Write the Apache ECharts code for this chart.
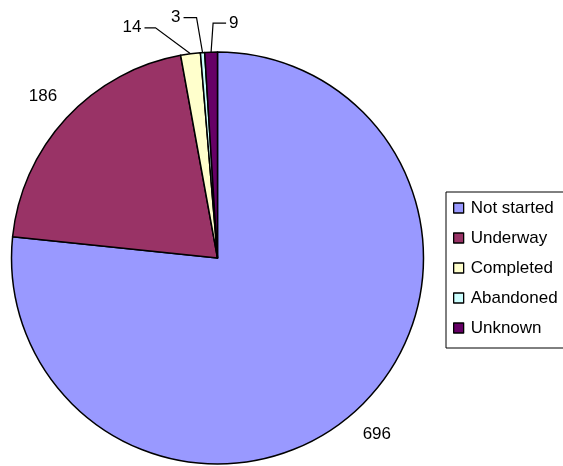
<!DOCTYPE html>
<html>
<head>
<meta charset="utf-8">
<script src="https://cdn.jsdelivr.net/npm/echarts@6/dist/echarts.min.js"></script>
<style>
html,body{margin:0;padding:0;background:#fff;}
#chart{width:563px;height:466px;}
</style>
</head>
<body>
<div id="chart"></div>
<script>
const categories = ['Not started', 'Underway', 'Completed', 'Abandoned', 'Unknown'];
const counts = [696, 186, 14, 3, 9];
const sliceColors = ['#9999FF', '#993366', '#FFFFCC', '#CCFFFF', '#660066'];

// leader-line shapes for the small slices (offsets from the slice edge point)
const leaderBend = { 2: [-35, -26], 3: [-6, -35], 4: [2, -29] };
const leaderRun = { 2: -11, 3: -13, 4: 13 };

const chart = echarts.init(document.getElementById('chart'), null, { renderer: 'canvas' });

const seriesData = categories.map(function (name, i) {
  const small = leaderBend[i] !== undefined;
  return {
    name: name,
    value: counts[i],
    itemStyle: { color: sliceColors[i] },
    labelLine: { show: small }
  };
});

chart.setOption({
  backgroundColor: '#ffffff',
  animation: false,
  color: sliceColors,
  legend: {
    orient: 'vertical',
    left: 446,
    top: 192,
    padding: [6, 40, 10, 7],
    borderColor: '#000',
    borderWidth: 1,
    itemWidth: 10,
    itemHeight: 10,
    itemGap: 10,
    icon: 'rect',
    itemStyle: { borderColor: '#000', borderWidth: 1.3 },
    textStyle: { fontFamily: 'Liberation Sans, Arial, sans-serif', fontSize: 17, color: '#000', lineHeight: 20, padding: [0, 0, 0, 2] },
    data: categories
  },
  series: [{
    type: 'pie',
    center: [217.5, 258],
    radius: 206,
    startAngle: 90,
    clockwise: true,
    avoidLabelOverlap: false,
    itemStyle: { borderColor: '#000', borderWidth: 1.5 },
    label: {
      show: true,
      position: 'outside',
      formatter: '{c}',
      fontFamily: 'Liberation Sans, Arial, sans-serif',
      fontSize: 17,
      color: '#000',
      distanceToLabelLine: 0
    },
    labelLine: {
      length: 32,
      length2: 0,
      lineStyle: { color: '#000', width: 1.2 }
    },
    emphasis: { disabled: true },
    labelLayout: function (p) {
      const i = p.dataIndex;
      if (leaderBend[i] !== undefined && p.labelLinePoints) {
        const p0 = p.labelLinePoints[0];
        const p1 = [p0[0] + leaderBend[i][0], p0[1] + leaderBend[i][1]];
        const p2 = [p1[0] + leaderRun[i], p1[1]];
        const right = leaderRun[i] > 0;
        return {
          x: p2[0] + (right ? 3 : -3),
          y: p2[1],
          align: right ? 'left' : 'right',
          verticalAlign: 'middle',
          labelLinePoints: [p0, p1, p2]
        };
      }
      const w = p.labelRect.width;
      let dx = 0;
      if (p.align === 'left') dx = -w / 2;
      else if (p.align === 'right') dx = w / 2;
      return { dx: dx };
    },
    data: seriesData
  }]
});
</script>
</body>
</html>
